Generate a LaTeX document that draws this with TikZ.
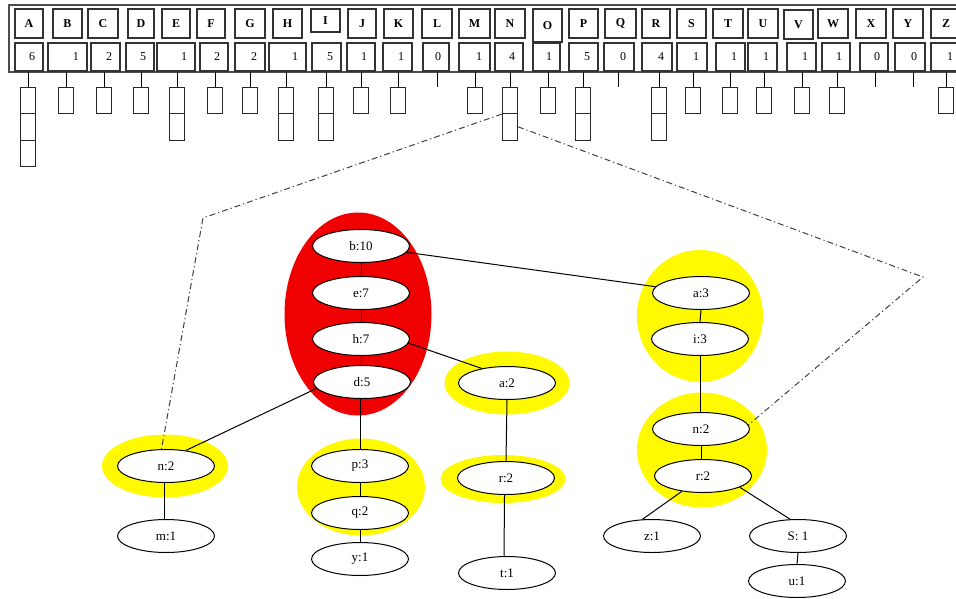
\documentclass[tikz,border=0pt]{standalone}
\usepackage{fontspec}
\setmainfont{Liberation Serif}
\usetikzlibrary{shapes.geometric}
\definecolor{hiyellow}{RGB}{255,250,0}
\definecolor{hired}{RGB}{240,0,0}
\begin{document}
\begin{tikzpicture}[x=1pt,y=-1pt,
  lettercell/.style={draw=black!80, line width=1.2pt, fill=white, inner sep=0pt, font=\fontsize{12}{14}\selectfont\bfseries},
  numcell/.style={draw=black!80, line width=1.2pt, fill=white, inner sep=0pt, align=right, font=\fontsize{12}{14}\selectfont},
  listbox/.style={draw=black!85, line width=1pt, minimum width=15pt, minimum height=26.5pt, inner sep=0pt},
  tnode/.style={ellipse, draw, line width=1pt, fill=white, minimum width=97pt, minimum height=33pt, inner sep=0pt, font=\fontsize{13}{15}\selectfont},
  halo/.style={ellipse, fill=hiyellow, inner sep=0pt},
  redhalo/.style={ellipse, fill=hired, inner sep=0pt},
  link/.style={line width=1pt},
  ptr/.style={line width=1pt, black!75, dash pattern=on 6pt off 3pt on 1.2pt off 3pt}
]
\useasboundingbox (0,0) rectangle (956,598);
\fill[white] (0,0) rectangle (956,598);

% outer table frame
\node[draw=black!70, line width=2pt, minimum width=960pt, minimum height=67pt, inner sep=0pt] (frame) at (489,38.5) {};

% letter cells
\foreach \l/\a/\b/\t/\u in {A/15/43/9/38, B/53/82/9/38, C/88/118/9/38, D/128/154/9/38, E/162/190/9/38, F/197/225/9/38, G/235/265/9/38, H/273/302/9/38, I/311/340/9/32, J/348/376/9/38, K/384/413/9/38, L/422/452/9/38, M/459/490/9/38, N/495/525/9/38, O/533/562/9/42, P/569/598/9/38, Q/605/636/9/38, R/642/670/9/38, S/677/706/9/38, T/713/743/9/38, U/748/778/9/38, V/784/813/10/39, W/818/848/9/38, X/856/886/9/38, Y/893/923/9/38, Z/931/961/9/38}{
  \node[lettercell, minimum width={(\b-\a)*1pt}, minimum height={(\u-\t)*1pt}] (L-\l) at ({(\a+\b)/2},{(\t+\u)/2}) {\l};
}

% count cells
\foreach \l/\a/\b/\v in {A/15/43/6, B/48/87/1, C/91/120/2, D/126/154/5, E/157/195/1, F/200/228/2, G/235/265/2, H/269/306/1, I/312/341/5, J/347/375/1, K/383/412/1, L/423/449/0, M/459/490/1, N/495/523/4, O/533/560/1, P/569/598/5, Q/604/634/0, R/642/672/4, S/677/707/1, T/716/745/1, U/748/777/1, V/787/816/1, W/822/850/1, X/860/888/0, Y/895/925/0, Z/931/961/1}{
  \node[numcell, minimum width={(\b-\a)*1pt}, minimum height=28pt, text width={(\b-\a-16)*1pt}] (C-\l) at ({(\a+\b)/2},57) {\v};
}

% stems and list boxes
\foreach \l/\sx/\n in {A/28/3, B/66/1, C/104/1, D/141/1, E/177/2, F/215/1, G/250/1, H/286/2, I/326/2, J/361/1, K/398/1, L/437/0, M/475/1, N/510/2, O/548/1, P/583/2, Q/618/0, R/659/2, S/693/1, T/730/1, U/764/1, V/802/1, W/837/1, X/875/0, Y/913/0, Z/946/1}{
  \coordinate (s-\l) at (\sx,72);
  \coordinate (e-\l) at (\sx,87);
  \ifnum\n>0
    \foreach \k in {1,...,\n}{
      \node[listbox] (b-\l-\k) at (\sx,{87+26.5*(\k-1)+13.25}) {};
    }
  \fi
  \draw[link] (s-\l) -- (e-\l);
}

% highlighted groups
\node[redhalo, minimum width=147pt, minimum height=203pt] (gred) at (358,314) {};
\node[halo, minimum width=126pt, minimum height=63pt] (gnl) at (165,466) {};
\node[halo, minimum width=125pt, minimum height=63pt] (ga2) at (507,383) {};
\node[halo, minimum width=125pt, minimum height=48pt] (gr2) at (503,479) {};
\node[halo, minimum width=128pt, minimum height=97pt] (gpq) at (361,487) {};
\node[halo, minimum width=126pt, minimum height=132pt] (gai) at (700,316) {};
\node[halo, minimum width=130pt, minimum height=115pt] (gnr) at (702,450) {};

% tree nodes
\node[tnode] (b10) at (361,246) {b:10};
\node[tnode] (e7) at (361,293) {e:7};
\node[tnode] (h7) at (361,339) {h:7};
\node[tnode] (d5) at (362,382) {d:5};
\node[tnode] (a2) at (507,383) {a:2};
\node[tnode] (r2m) at (506,478) {r:2};
\node[tnode] (t1) at (507,573) {t:1};
\node[tnode] (a3) at (701,293) {a:3};
\node[tnode] (i3) at (700,339) {i:3};
\node[tnode] (n2r) at (701,429) {n:2};
\node[tnode] (r2r) at (703,476) {r:2};
\node[tnode] (z1) at (652,536) {z:1};
\node[tnode] (s1) at (798,536) {S: 1};
\node[tnode] (u1) at (797,581) {u:1};
\node[tnode] (n2l) at (166,466) {n:2};
\node[tnode] (m1) at (166,536) {m:1};
\node[tnode] (p3) at (360,466) {p:3};
\node[tnode] (q2) at (360,513) {q:2};
\node[tnode] (y1) at (360,559) {y:1};

% tree links
\draw[link] (b10.south) -- (e7.north);
\draw[link] (e7.south) -- (h7.north);
\draw[link] (h7.south) -- (d5.north -| h7.south);
\draw[link] (d5.south -| p3.north) -- (p3.north);
\draw[link] (p3.south) -- (q2.north);
\draw[link] (q2.south) -- (y1.north);
\draw[link] (d5.188) -- (n2l.38);
\draw[link] (n2l.265) -- (m1.95);
\draw[link] (b10) -- (a3);
\draw[link] (h7.-5) -- (a2.150);
\draw[link] (a2.south) -- (r2m.north);
\draw[link] (r2m.265) -- (t1.100);
\draw[link] (a3.south) -- (i3.north);
\draw[link] (i3.south) -- (n2r.north -| i3.south);
\draw[link] (n2r.south) -- (r2r.north -| n2r.south);
\draw[link] (r2r.216) -- (z1.120);
\draw[link] (r2r.-17) -- (s1.115);
\draw[link] (s1.south) -- (u1.north);

% pointers from bucket N
\coordinate (cl) at (203,218);
\coordinate (cr) at (923,277);
\draw[ptr] (b-N-1.south west) -- (cl) -- (n2l.105);
\draw[ptr] (b-N-2.east) -- (cr) -- (n2r.5);
\end{tikzpicture}
\end{document}
